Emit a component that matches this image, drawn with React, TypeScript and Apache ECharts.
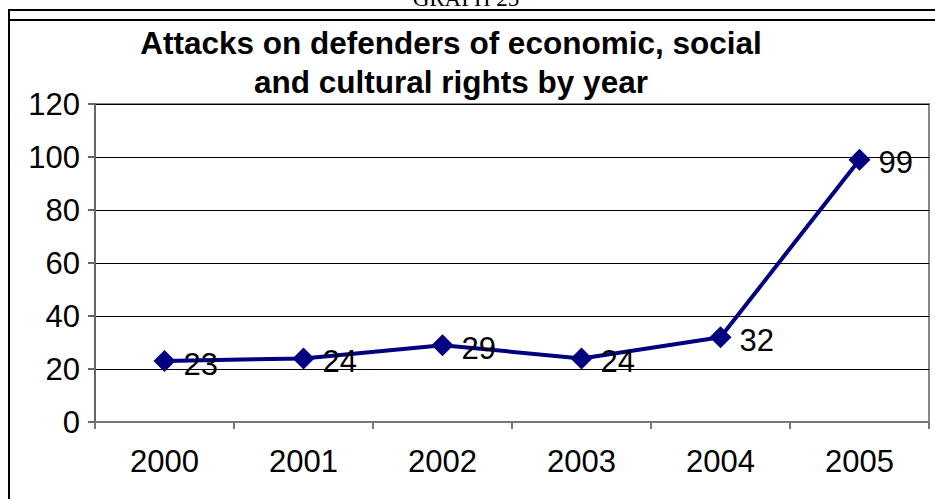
import React, { useEffect, useRef } from "react";
import * as echarts from "echarts";

const years = ["2000", "2001", "2002", "2003", "2004", "2005"];
const attacks = [23, 24, 29, 24, 32, 99];
const yTicks = { min: 0, max: 120, interval: 20 };
const titleLines = ["Attacks on defenders of economic, social", "and cultural rights by year"];
const headerText = "GRAPH 25";

export default function App() {
  const ref = useRef<HTMLDivElement>(null);
  useEffect(() => {
    if (!ref.current) return;
    const chart = echarts.init(ref.current, null, { renderer: "svg" });
    const font = "Liberation Sans, Arial, sans-serif";
    chart.setOption({
      animation: false,
      backgroundColor: "#ffffff",
      grid: {
        left: 95,
        right: 6,
        top: 104,
        bottom: 77,
        show: true,
        borderColor: "#888888",
        borderWidth: 2,
        backgroundColor: "transparent",
      },
      xAxis: {
        type: "category",
        data: years,
        boundaryGap: true,
        axisLine: { show: true, lineStyle: { color: "#777777", width: 2 } },
        axisTick: { show: true, length: 7, alignWithLabel: false, lineStyle: { color: "#777777", width: 2 } },
        axisLabel: { color: "#000000", fontSize: 31, fontFamily: font, margin: 24 },
        splitLine: { show: false },
      },
      yAxis: {
        type: "value",
        min: yTicks.min,
        max: yTicks.max,
        interval: yTicks.interval,
        axisLine: { show: true, lineStyle: { color: "#666666", width: 2 } },
        axisTick: { show: true, length: 7, lineStyle: { color: "#666666", width: 2 } },
        axisLabel: { color: "#000000", fontSize: 31, fontFamily: font, margin: 15 },
        splitLine: { show: true, lineStyle: { color: "#000000", width: 1 } },
      },
      series: [
        {
          type: "line",
          data: attacks,
          symbol: "diamond",
          symbolSize: 22,
          showAllSymbol: true,
          lineStyle: { color: "#000080", width: 4 },
          itemStyle: { color: "#000080" },
          label: {
            show: true,
            position: "right",
            distance: 8,
            offset: [0, 3],
            color: "#000000",
            fontSize: 31,
            fontFamily: font,
          },
          z: 5,
        },
      ],
      graphic: [
        {
          type: "text",
          x: 451,
          y: 23,
          style: {
            text: titleLines.join("\n"),
            fontSize: 31.5,
            fontWeight: "bold",
            fontFamily: font,
            fill: "#000000",
            align: "center",
            verticalAlign: "top",
            lineHeight: 39,
          },
        },
        {
          type: "text",
          x: 466,
          y: -2,
          style: {
            text: headerText,
            fontSize: 23,
            fontFamily: "Liberation Serif, Times New Roman, serif",
            fill: "#000000",
            align: "center",
            verticalAlign: "middle",
          },
        },
        {
          type: "line",
          shape: { x1: 8, y1: 10, x2: 935, y2: 10 },
          style: { stroke: "#000000", lineWidth: 2 },
        },
        {
          type: "line",
          shape: { x1: 8, y1: 20, x2: 935, y2: 20 },
          style: { stroke: "#000000", lineWidth: 2 },
        },
        {
          type: "line",
          shape: { x1: 9, y1: 9, x2: 9, y2: 499 },
          style: { stroke: "#000000", lineWidth: 2 },
        },
      ],
    });
    return () => chart.dispose();
  }, []);
  return (
    <div
      ref={ref}
      style={{ position: "fixed", left: 0, top: 0, width: 935, height: 499, background: "#fff" }}
    />
  );
}
